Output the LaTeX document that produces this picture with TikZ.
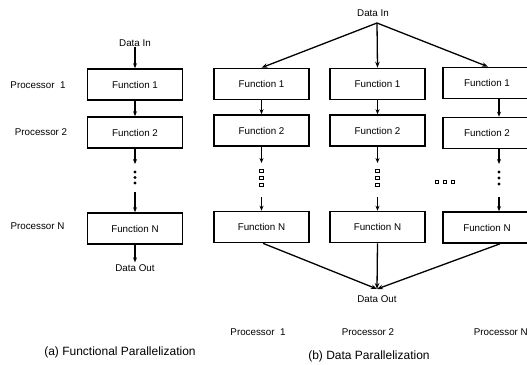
\documentclass[tikz,border=0pt]{standalone}
\usepackage{fontspec}
\setmainfont{Liberation Sans}
\usetikzlibrary{arrows.meta}
\begin{document}
\begin{tikzpicture}[x=1pt,y=-1pt,
  fbox/.style={draw, line width=1.6pt, minimum width=95pt, minimum height=31pt, inner sep=0pt, font=\fontsize{9.8}{11}\selectfont},
  lbl/.style={inner sep=0pt, font=\fontsize{9.8}{11}\selectfont},
  captxt/.style={inner sep=0pt, font=\fontsize{12}{14}\selectfont},
  arr/.style={-{Stealth[length=5pt,width=4pt]}, line width=1.1pt},
  fan/.style={-{Stealth[length=6pt,width=4.5pt]}, line width=1.3pt},
  fdot/.style={fill=black, circle, inner sep=0pt, minimum size=3.4pt},
  hdot/.style={draw=black, line width=0.9pt, rectangle, inner sep=0pt, minimum size=3.6pt}]
\useasboundingbox (0,0) rectangle (527,364);
\clip (0,0) rectangle (527,364);

% ---------- (a) functional parallelization ----------
\node[lbl] (ain) at (135,43) {Data In};
\node[fbox] (a1) at (135,84.5) {Function 1};
\node[fbox] (a2) at (135,132.5) {Function 2};
\node[fbox] (aN) at (135,228.5) {Function N};
\node[lbl] (aout) at (135,268) {Data Out};
\coordinate (a2e) at (135,164);
\coordinate (aNs) at (135,192);
\node[fdot] (ad1) at (135,172) {};
\node[fdot] (ad2) at (135,177.5) {};
\node[fdot] (ad3) at (135,183) {};
\draw[arr] (ain.south) -- (a1.north);
\draw[arr] (a1.south) -- (a2.north);
\draw[arr] (a2.south) -- (a2e);
\draw[arr] (aNs) -- (aN.north);
\draw[arr] (aN.south) -- ([yshift=2pt]aout.north);

\node[lbl] (ap1) at (38,85) {Processor~ 1};
\node[lbl] (ap2) at (41,132) {Processor 2};
\node[lbl] (apN) at (37.5,226) {Processor N};
\node[captxt] (acap) at (120,352) {(a) Functional Parallelization};

% ---------- (b) data parallelization ----------
\node[lbl] (bin) at (373,13) {Data In};
\coordinate (bfan) at (377,23);

\node[fbox] (b11) at (261.5,84) {Function 1};
\node[fbox] (b12) at (261.5,130.5) {Function 2};
\node[fbox] (b1N) at (261.5,227) {Function N};
\node[fbox] (b21) at (377.5,84) {Function 1};
\node[fbox] (b22) at (377.5,130.5) {Function 2};
\node[fbox] (b2N) at (377.5,227) {Function N};
\node[fbox, minimum width=88pt] (b31) at (487,83) {Function 1};
\node[fbox, minimum width=88pt] (b32) at (487,133) {Function 2};
\node[fbox, minimum width=88pt] (b3N) at (487,227.5) {Function N};

\draw[fan] (bfan) -- (b11.north);
\draw[fan] (bfan) -- (b21.north);
\draw[fan] (bfan) -- ([xshift=1pt]b31.north);

\draw[arr] (b11.south) -- (b12.north);
\draw[arr] (b21.south) -- (b22.north);
\draw[arr] ([xshift=12pt]b31.south) -- ([xshift=12pt]b32.north);

% column 1 ellipsis
\coordinate (c1a) at (261.5,163);
\coordinate (c1b) at (261.5,197);
\node[hdot] (c1d1) at (261.5,171) {};
\node[hdot] (c1d2) at (261.5,178) {};
\node[hdot] (c1d3) at (261.5,185) {};
\draw[arr] (b12.south) -- (c1a);
\draw[arr] (c1b) -- (b1N.north);
% column 2 ellipsis
\coordinate (c2a) at (377.5,163);
\coordinate (c2b) at (377.5,197);
\node[hdot] (c2d1) at (377.5,171) {};
\node[hdot] (c2d2) at (377.5,178) {};
\node[hdot] (c2d3) at (377.5,185) {};
\draw[arr] (b22.south) -- (c2a);
\draw[arr] (c2b) -- (b2N.north);
% column 3 ellipsis
\coordinate (c3a) at (499,164);
\coordinate (c3b) at (499,197);
\node[fdot] (c3d1) at (499,172) {};
\node[fdot] (c3d2) at (499,178) {};
\node[fdot] (c3d3) at (499,184) {};
\draw[arr] ([xshift=12pt]b32.south) -- (c3a);
\draw[arr] (c3b) -- ([xshift=12pt]b3N.north);
% horizontal ellipsis
\node[hdot] (h1) at (437,182) {};
\node[hdot] (h2) at (445,182) {};
\node[hdot] (h3) at (453,182) {};

\node[lbl] (bout) at (377,299) {Data Out};
\coordinate (bsink) at (377,289);
\draw[fan] ([xshift=1.5pt]b1N.south) -- (bsink);
\draw[fan] (b2N.south) -- (bsink);
\draw[fan] ([xshift=13pt]b3N.south) -- (bsink);

\node[lbl] (bp1) at (258,332) {Processor~ 1};
\node[lbl] (bp2) at (368,332) {Processor 2};
\node[lbl, anchor=east] (bpN) at (528,332) {Processor N};
\node[captxt] (bcap) at (369,356) {(b) Data Parallelization};
\end{tikzpicture}
\end{document}
